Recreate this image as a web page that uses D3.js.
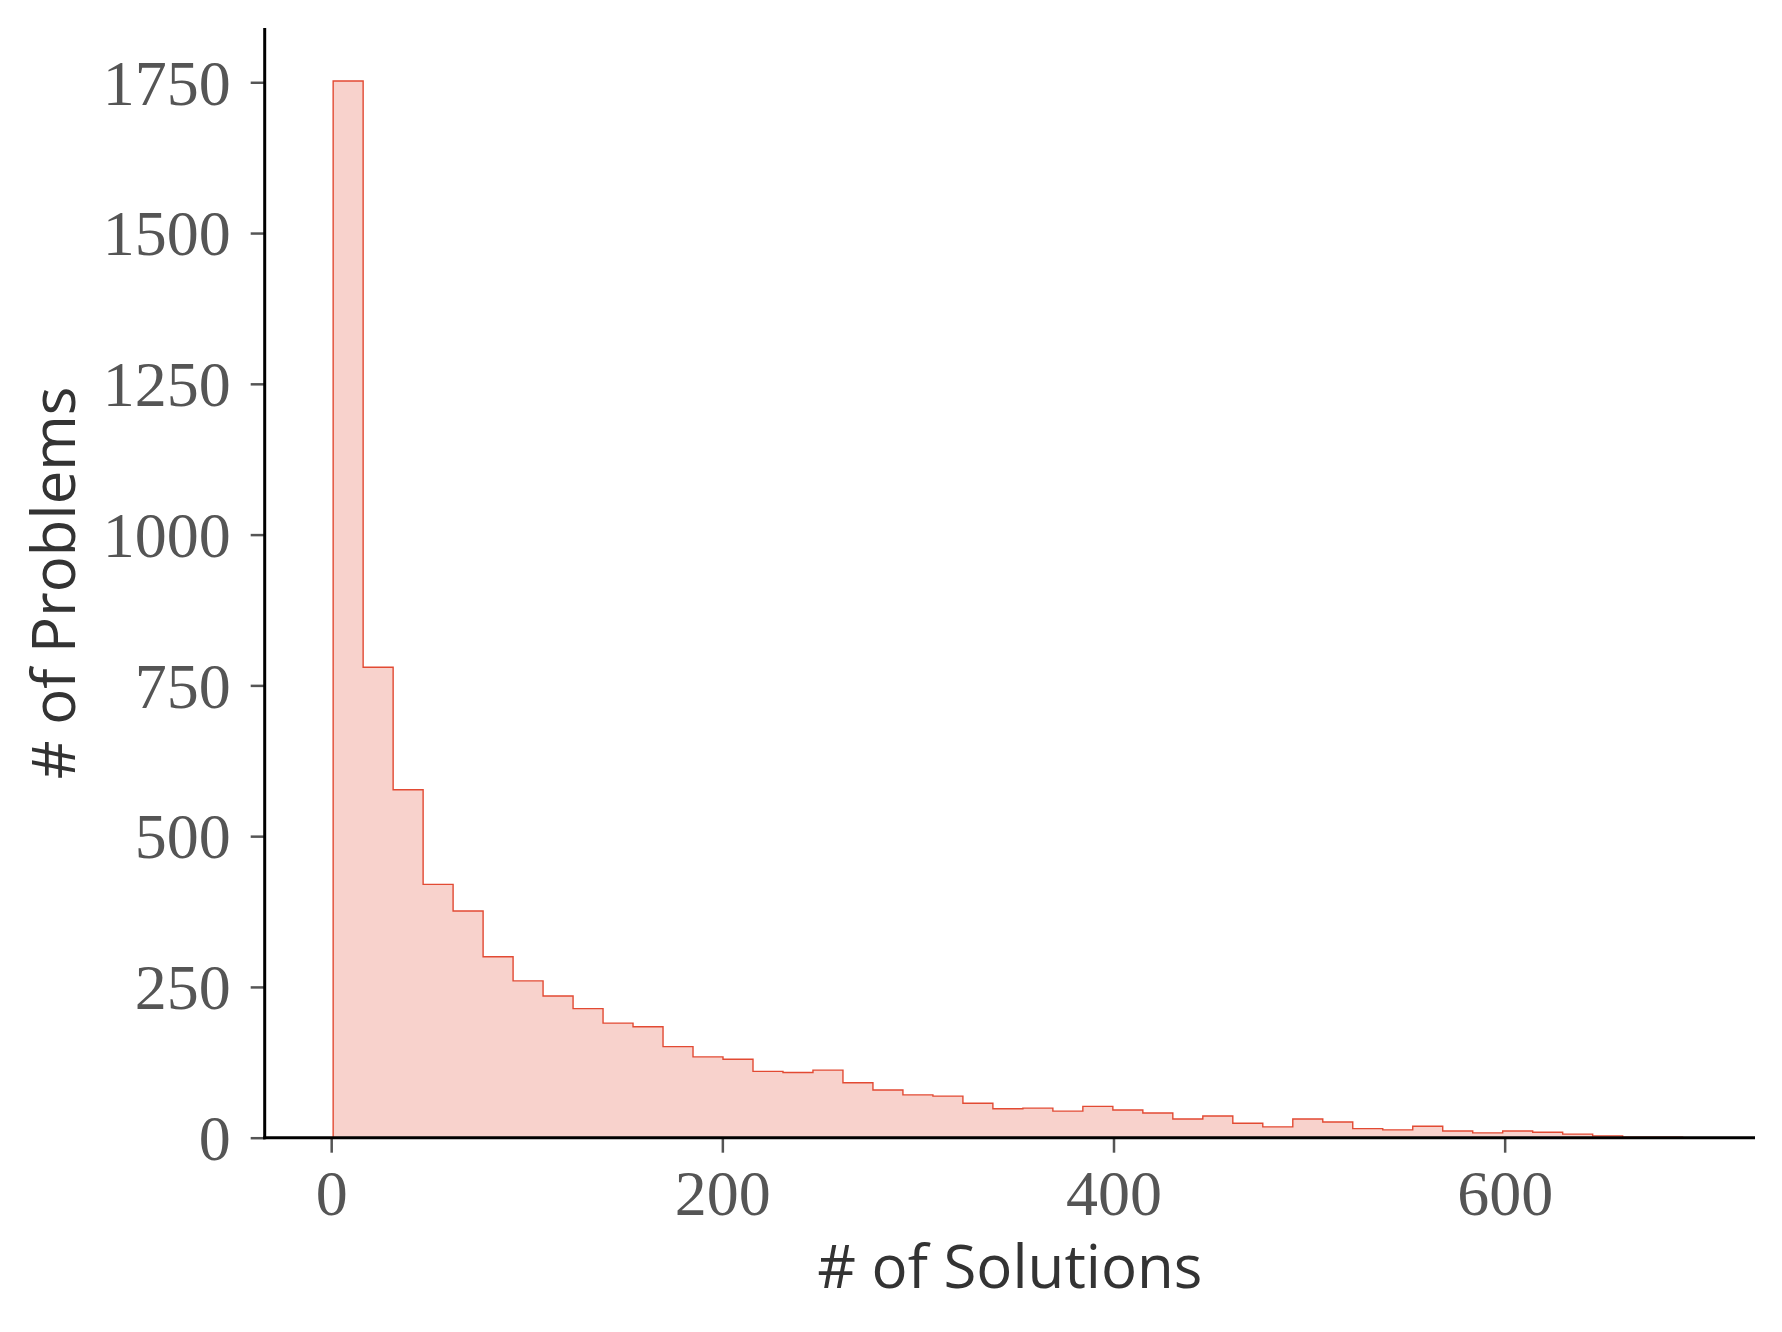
<!DOCTYPE html>
<html>
<head>
<meta charset="utf-8">
<script src="https://cdn.jsdelivr.net/npm/d3@7"></script>
<style>
  html, body { margin: 0; padding: 0; background: #ffffff; }
  svg { display: block; }
</style>
</head>
<body>
<script>
// ---- Data ----
const binEdges = [1, 16.33, 31.67, 47, 62.33, 77.67, 93, 108.33, 123.67, 139, 154.33, 169.67,
  185, 200.33, 215.67, 231, 246.33, 261.67, 277, 292.33, 307.67, 323, 338.33, 353.67, 369,
  384.33, 399.67, 415, 430.33, 445.67, 461, 476.33, 491.67, 507, 522.33, 537.67, 553, 568.33,
  583.67, 599, 614.33, 629.67, 645, 660.33, 675.67, 691];
const binCounts = [1752, 780, 577, 420, 376, 300, 260, 235, 214, 190, 184, 151, 134, 130, 110,
  108, 112, 91, 79, 71, 69, 57, 48, 49, 44, 52, 46, 41, 31, 36, 24, 18, 31, 26, 15, 13, 19, 11,
  8, 11, 9, 6, 3, 1, 1];
const xTicks = [0, 200, 400, 600];
const yTicks = [0, 250, 500, 750, 1000, 1250, 1500, 1750];
const xLabel = "# of Solutions";
const yLabel = "# of Problems";

// ---- Layout ----
const W = 1782, H = 1332;
const svg = d3.select("body").append("svg").attr("width", W).attr("height", H);

const x = d3.scaleLinear().domain([-34, 728]).range([264.7, 1755]);
const y = d3.scaleLinear().domain([0, 1840]).range([1137.7, 28]);

const lineColor = "#E24A33";

// ---- Step-filled histogram ----
const pts = [];
pts.push([x(binEdges[0]), y(0)]);
binCounts.forEach((c, i) => {
  pts.push([x(binEdges[i]), y(c)]);
  pts.push([x(binEdges[i + 1]), y(c)]);
});
pts.push([x(binEdges[binEdges.length - 1]), y(0)]);

svg.append("path")
  .attr("d", d3.line()(pts) + "Z")
  .attr("fill", lineColor)
  .attr("fill-opacity", 0.25)
  .attr("stroke", lineColor)
  .attr("stroke-width", 1.4)
  .attr("stroke-linejoin", "miter");

// ---- Axes ----
const tickColor = "#555555";
const serif = "'Liberation Serif', 'DejaVu Serif', serif";

const xAxis = d3.axisBottom(x).tickValues(xTicks).tickSize(15).tickPadding(17).tickFormat(d3.format("d"));
const gx = svg.append("g").attr("transform", `translate(0,${y(0)})`).call(xAxis);
gx.select(".domain").remove();
gx.selectAll(".tick line").attr("stroke", tickColor).attr("stroke-width", 2.5);
gx.selectAll(".tick text")
  .attr("fill", tickColor)
  .attr("font-family", serif)
  .attr("font-size", 64)
  .attr("dy", "0.71em");

const yAxis = d3.axisLeft(y).tickValues(yTicks).tickSize(14).tickPadding(20).tickFormat(d3.format("d"));
const gy = svg.append("g").attr("transform", `translate(${x.range()[0]},0)`).call(yAxis);
gy.select(".domain").remove();
gy.selectAll(".tick line").attr("stroke", tickColor).attr("stroke-width", 2.5);
gy.selectAll(".tick text")
  .attr("fill", tickColor)
  .attr("font-family", serif)
  .attr("font-size", 64)
  .attr("dy", "0.34em");

// ---- Spines (left and bottom) ----
svg.append("line")
  .attr("x1", x.range()[0]).attr("x2", x.range()[0])
  .attr("y1", y.range()[1]).attr("y2", y(0) + 1.5)
  .attr("stroke", "#000").attr("stroke-width", 3);
svg.append("line")
  .attr("x1", x.range()[0] - 1.5).attr("x2", x.range()[1])
  .attr("y1", y(0)).attr("y2", y(0))
  .attr("stroke", "#000").attr("stroke-width", 3);

// ---- Axis labels ----
const sans = "'Open Sans', 'Lato', sans-serif";
svg.append("text")
  .attr("x", (x.range()[0] + x.range()[1]) / 2)
  .attr("y", 1288)
  .attr("text-anchor", "middle")
  .attr("font-family", sans)
  .attr("font-size", 60)
  .attr("fill", "#333333")
  .text(xLabel);

svg.append("text")
  .attr("transform", `translate(75,${(y.range()[0] + y.range()[1]) / 2}) rotate(-90)`)
  .attr("text-anchor", "middle")
  .attr("font-family", sans)
  .attr("font-size", 60)
  .attr("fill", "#333333")
  .text(yLabel);
</script>
</body>
</html>
